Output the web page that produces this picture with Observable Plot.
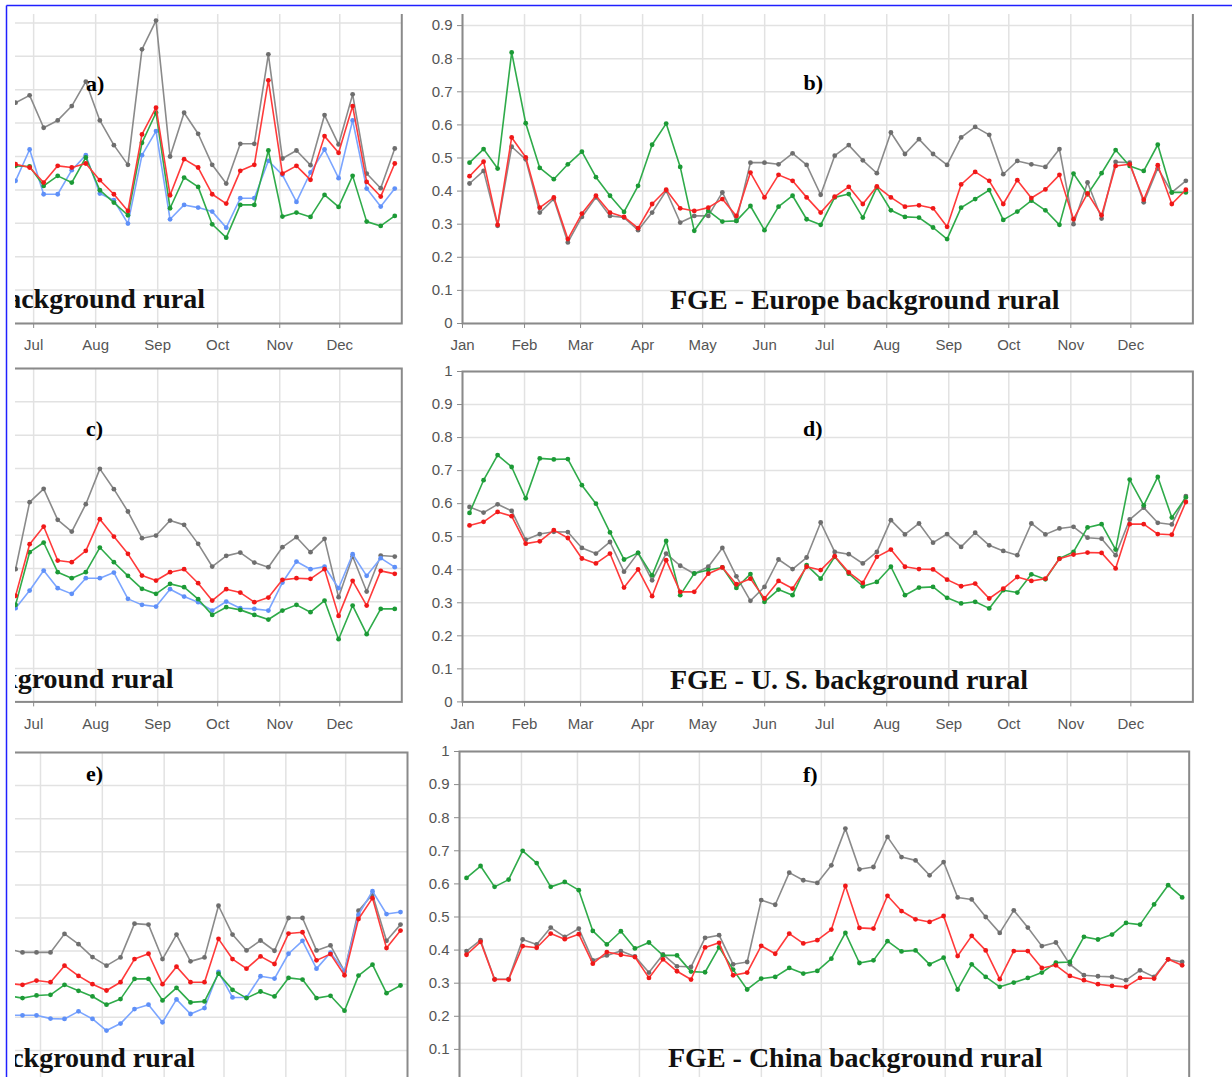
<!DOCTYPE html>
<html>
<head>
<meta charset="utf-8">
<script src="https://cdn.jsdelivr.net/npm/d3@7"></script>
<script src="https://cdn.jsdelivr.net/npm/@observablehq/plot@0.6"></script>
<style>
  html, body { margin: 0; padding: 0; background: #fff; overflow: hidden; }
  #fig { position: relative; width: 1232px; height: 1077px; overflow: hidden; background: #fff; }
  .clip { position: absolute; overflow: hidden; }
  #overlay { position: absolute; left: 0; top: 0; pointer-events: none; }
</style>
</head>
<body>
<div id="fig"></div>
<script>
// ---------------- data ----------------
const yTicks = [0, 0.1, 0.2, 0.3, 0.4, 0.5, 0.6, 0.7, 0.8, 0.9, 1];
const monthLabels = ["Jan", "Feb", "Mar", "Apr", "May", "Jun", "Jul", "Aug", "Sep", "Oct", "Nov", "Dec"];
const weeksAll = d3.range(1, 53);      // weeks 1..52
const weeksJulDec = d3.range(25, 53);  // visible part of the left panels
const weeksJunDec = d3.range(24, 53);

// panel a (left, cropped)
const aGray  = [0.661,0.683,0.586,0.608,0.651,0.724,0.608,0.534,0.475,0.821,0.907,0.500,0.631,0.568,0.475,0.419,0.538,0.538,0.806,0.494,0.518,0.474,0.624,0.536,0.686,0.449,0.405,0.524];
const aRed   = [0.477,0.467,0.422,0.472,0.467,0.479,0.429,0.387,0.337,0.566,0.646,0.384,0.492,0.467,0.387,0.359,0.457,0.475,0.728,0.449,0.472,0.430,0.561,0.511,0.651,0.424,0.380,0.479];
const aGreen = [0.472,0.470,0.412,0.442,0.422,0.497,0.399,0.362,0.324,0.541,0.631,0.345,0.437,0.409,0.297,0.257,0.355,0.355,0.518,0.320,0.332,0.319,0.385,0.349,0.442,0.305,0.292,0.322];
const aBlue  = [0.427,0.521,0.387,0.387,0.459,0.504,0.389,0.369,0.299,0.504,0.576,0.312,0.355,0.347,0.335,0.287,0.375,0.375,0.487,0.445,0.364,0.452,0.521,0.435,0.608,0.404,0.350,0.404];

// panel b: FGE - Europe background rural
const bGray  = [0.423,0.461,0.295,0.534,0.496,0.335,0.376,0.245,0.322,0.381,0.325,0.320,0.282,0.335,0.401,0.305,0.325,0.325,0.396,0.310,0.486,0.486,0.481,0.514,0.479,0.389,
                0.507,0.539,0.493,0.454,0.577,0.512,0.557,0.512,0.479,0.562,0.594,0.570,0.451,0.491,0.481,0.473,0.527,0.300,0.426,0.317,0.488,0.486,0.366,0.469,0.396,0.431];
const bRed   = [0.445,0.489,0.298,0.562,0.502,0.350,0.381,0.255,0.332,0.386,0.335,0.322,0.288,0.361,0.404,0.348,0.340,0.350,0.376,0.325,0.456,0.381,0.449,0.431,0.381,0.335,
                0.383,0.413,0.361,0.414,0.381,0.353,0.357,0.348,0.292,0.420,0.458,0.431,0.361,0.433,0.379,0.405,0.449,0.315,0.393,0.327,0.476,0.481,0.374,0.478,0.361,0.404];
const bGreen = [0.486,0.527,0.468,0.819,0.605,0.470,0.436,0.481,0.519,0.442,0.386,0.337,0.416,0.540,0.604,0.473,0.280,0.340,0.308,0.310,0.355,0.282,0.353,0.386,0.315,0.298,
                0.381,0.391,0.320,0.411,0.342,0.322,0.320,0.290,0.255,0.350,0.376,0.403,0.313,0.338,0.371,0.342,0.298,0.453,0.390,0.454,0.524,0.476,0.461,0.540,0.396,0.396];

// panel c (left, cropped)
const cGray  = [0.398,0.599,0.639,0.546,0.511,0.593,0.699,0.638,0.571,0.491,0.499,0.544,0.531,0.474,0.406,0.438,0.448,0.418,0.404,0.464,0.494,0.449,0.489,0.314,0.436,0.331,0.439,0.436];
const cRed   = [0.318,0.473,0.526,0.424,0.419,0.453,0.548,0.496,0.444,0.379,0.364,0.389,0.398,0.356,0.304,0.338,0.328,0.299,0.313,0.366,0.371,0.369,0.398,0.258,0.363,0.289,0.393,0.384];
const cGreen = [0.291,0.449,0.478,0.389,0.371,0.389,0.463,0.419,0.378,0.339,0.324,0.354,0.344,0.308,0.261,0.284,0.276,0.261,0.247,0.274,0.291,0.269,0.304,0.188,0.289,0.203,0.279,0.279];
const cBlue  = [0.281,0.334,0.394,0.341,0.324,0.371,0.371,0.388,0.309,0.291,0.286,0.338,0.316,0.299,0.274,0.301,0.281,0.279,0.274,0.358,0.421,0.398,0.406,0.341,0.443,0.378,0.431,0.404];

// panel d: FGE - U. S. background rural
const dGray  = [0.590,0.573,0.598,0.578,0.491,0.508,0.515,0.514,0.466,0.449,0.484,0.394,0.451,0.368,0.449,0.412,0.388,0.409,0.466,0.380,0.306,0.348,0.431,0.402,0.437,0.543,
                0.454,0.447,0.419,0.454,0.550,0.507,0.540,0.482,0.508,0.469,0.512,0.474,0.457,0.444,0.540,0.507,0.525,0.530,0.497,0.494,0.444,0.552,0.588,0.542,0.537,0.623];
const dRed   = [0.534,0.545,0.575,0.562,0.479,0.486,0.520,0.496,0.434,0.419,0.449,0.346,0.401,0.320,0.429,0.333,0.333,0.388,0.407,0.356,0.373,0.313,0.366,0.343,0.409,0.399,
                0.441,0.392,0.360,0.439,0.461,0.409,0.402,0.401,0.370,0.350,0.358,0.313,0.343,0.378,0.366,0.373,0.433,0.446,0.452,0.451,0.404,0.538,0.538,0.508,0.506,0.605];
const dGreen = [0.572,0.671,0.747,0.711,0.616,0.737,0.734,0.735,0.656,0.600,0.513,0.431,0.451,0.383,0.487,0.323,0.389,0.399,0.407,0.345,0.387,0.303,0.340,0.323,0.414,0.373,
                0.439,0.388,0.350,0.363,0.409,0.323,0.346,0.348,0.315,0.298,0.303,0.283,0.338,0.331,0.386,0.371,0.434,0.454,0.528,0.538,0.461,0.673,0.595,0.681,0.558,0.619];

// panel e (left, cropped)
const eGray  = [0.407,0.396,0.396,0.396,0.452,0.421,0.382,0.356,0.381,0.483,0.480,0.376,0.450,0.369,0.381,0.537,0.450,0.402,0.432,0.401,0.500,0.500,0.402,0.417,0.339,0.522,0.571,0.431,0.480];
const eRed   = [0.302,0.298,0.311,0.306,0.356,0.325,0.300,0.281,0.306,0.376,0.392,0.300,0.353,0.306,0.306,0.437,0.376,0.347,0.384,0.361,0.453,0.457,0.372,0.391,0.327,0.497,0.560,0.409,0.462];
const eGreen = [0.265,0.258,0.266,0.268,0.298,0.280,0.263,0.238,0.255,0.316,0.316,0.251,0.289,0.245,0.248,0.332,0.283,0.258,0.278,0.263,0.319,0.314,0.258,0.265,0.220,0.326,0.359,0.273,0.296];
const eBlue  = [0.206,0.206,0.206,0.196,0.195,0.218,0.195,0.160,0.181,0.225,0.238,0.185,0.254,0.210,0.228,0.337,0.260,0.260,0.324,0.317,0.392,0.431,0.347,0.395,0.339,0.510,0.581,0.512,0.518];

// panel f: FGE - China background rural
const fGray  = [0.397,0.430,0.312,0.312,0.432,0.417,0.468,0.440,0.465,0.369,0.384,0.397,0.381,0.332,0.387,0.351,0.349,0.437,0.445,0.357,0.364,0.551,0.537,0.634,0.611,0.603,
                0.656,0.767,0.644,0.651,0.742,0.681,0.671,0.626,0.666,0.559,0.553,0.500,0.452,0.520,0.468,0.412,0.423,0.357,0.324,0.321,0.319,0.309,0.339,0.319,0.372,0.364];
const fRed   = [0.386,0.425,0.311,0.311,0.412,0.407,0.450,0.433,0.448,0.359,0.394,0.386,0.379,0.316,0.372,0.336,0.311,0.408,0.422,0.324,0.332,0.413,0.389,0.450,0.420,0.430,
                0.462,0.594,0.467,0.465,0.564,0.518,0.493,0.485,0.503,0.382,0.443,0.399,0.312,0.397,0.397,0.346,0.354,0.322,0.309,0.297,0.292,0.289,0.316,0.314,0.372,0.354];
const fGreen = [0.618,0.654,0.591,0.613,0.700,0.663,0.591,0.606,0.581,0.458,0.417,0.457,0.405,0.423,0.384,0.384,0.335,0.333,0.408,0.341,0.281,0.314,0.319,0.346,0.329,0.337,
                0.374,0.452,0.361,0.369,0.427,0.396,0.399,0.357,0.377,0.281,0.357,0.319,0.289,0.302,0.316,0.332,0.362,0.364,0.440,0.432,0.447,0.482,0.477,0.538,0.596,0.559];

const titles = ["Europe background rural", "FGE - Europe background rural",
                "U. S. background rural", "FGE - U. S. background rural",
                "China background rural", "FGE - China background rural"];
const letters = ["a)", "b)", "c)", "d)", "e)", "f)"];

// ---------------- styling ----------------
const lineColor = {gray: "#8a8a8a", red: "#ff3a3a", green: "#2fab4a", blue: "#7ba5ff"};
const dotColor  = {gray: "#6e6e6e", red: "#f01818", green: "#1c9a36", blue: "#5f90f8"};

const ML = 40, MR = 12, MT = 12, MB = 40;
const DAY = 864e5, Y0 = Date.UTC(2015, 0, 1), Y1 = Date.UTC(2016, 0, 1);
const weekDate = w => new Date(Y0 + (w - 0.5) * (365 / 52) * DAY);
const monthStarts = monthLabels.map((m, i) => new Date(Date.UTC(2015, i, 1)));
const fmtY = d3.format("~g");

// yAxis: whether the y labels fall inside the picture; xLabelsFrom: first month whose label is in the picture
const panels = [
  {axisX: -329.3, top: -11.3, w: 730.3, h: 334.0, clip: [15, 14, 395, 346], yAxis: false, xLabelsFrom: 6,
   series: [["gray", weeksJulDec, aGray], ["blue", weeksJulDec, aBlue], ["green", weeksJulDec, aGreen], ["red", weeksJulDec, aRed]]},
  {axisX: 462.3, top: -8.3, w: 730.4, h: 331.0, clip: [412, 14, 820, 346], yAxis: true, xLabelsFrom: 0,
   series: [["gray", weeksAll, bGray], ["green", weeksAll, bGreen], ["red", weeksAll, bRed]]},
  {axisX: -329.3, top: 368.3, w: 730.3, h: 333.4, clip: [15, 360, 395, 380], yAxis: false, xLabelsFrom: 6,
   series: [["gray", weeksJulDec, cGray], ["blue", weeksJulDec, cBlue], ["green", weeksJulDec, cGreen], ["red", weeksJulDec, cRed]]},
  {axisX: 462.3, top: 371.3, w: 730.4, h: 330.4, clip: [412, 360, 820, 380], yAxis: true, xLabelsFrom: 0,
   series: [["gray", weeksAll, dGray], ["green", weeksAll, dGreen], ["red", weeksAll, dRed]]},
  {axisX: -321.3, top: 752.3, w: 728.0, h: 331.0, clip: [15, 740, 397, 337], yAxis: false, xLabelsFrom: null,
   series: [["gray", weeksJunDec, eGray], ["blue", weeksJunDec, eBlue], ["green", weeksJunDec, eGreen], ["red", weeksJunDec, eRed]]},
  {axisX: 459.3, top: 751.3, w: 729.7, h: 331.0, clip: [412, 740, 820, 337], yAxis: true, xLabelsFrom: null,
   series: [["gray", weeksAll, fGray], ["green", weeksAll, fGreen], ["red", weeksAll, fRed]]}
];

const fig = document.getElementById("fig");

for (const p of panels) {
  const marks = [
    Plot.gridY(yTicks, {stroke: "#e2e2e2", strokeOpacity: 1, strokeWidth: 1.5}),
    Plot.gridX(monthStarts, {stroke: "#e2e2e2", strokeOpacity: 1, strokeWidth: 1.5})
  ];
  if (p.yAxis) {
    // only the labels that fall inside the picture (the rest is cropped away in the reference)
    const visible = yTicks.filter(v => {
      const y = p.top + p.h * (1 - v);
      return y > p.clip[1] + 8 && y < 1072;
    });
    marks.push(Plot.axisY(visible, {
      tickFormat: fmtY, tickSize: 5, tickPadding: 5, label: null,
      stroke: "#8a8a8a", fill: "#555", fontSize: 15}));
  }
  if (p.xLabelsFrom !== null) {
    marks.push(Plot.axisX(monthStarts.slice(p.xLabelsFrom), {
      tickFormat: d => monthLabels[d.getUTCMonth()], tickSize: 5, tickPadding: 11,
      label: null, stroke: "#8a8a8a", fill: "#555", fontSize: 15}));
  }
  marks.push(Plot.frame({stroke: "#8a8a8a", strokeWidth: 2}));
  for (const [color, weeks, values] of p.series) {
    const data = values.map((v, k) => ({date: weekDate(weeks[k]), value: v}));
    marks.push(Plot.line(data, {x: "date", y: "value", stroke: lineColor[color], strokeWidth: 1.6}));
    marks.push(Plot.dot(data, {x: "date", y: "value", fill: dotColor[color], r: 2.4}));
  }
  const svg = Plot.plot({
    width: ML + p.w + MR,
    height: MT + p.h + MB,
    marginLeft: ML, marginRight: MR, marginTop: MT, marginBottom: MB,
    x: {type: "utc", domain: [new Date(Y0), new Date(Y1)], axis: null},
    y: {type: "linear", domain: [0, 1], axis: null},
    style: {fontFamily: "'Liberation Sans', Arial, sans-serif", fontSize: "15px", color: "#555",
            background: "transparent", maxWidth: "none", overflow: "visible"},
    marks
  });
  const clip = document.createElement("div");
  clip.className = "clip";
  clip.style.left = p.clip[0] + "px";
  clip.style.top = p.clip[1] + "px";
  clip.style.width = p.clip[2] + "px";
  clip.style.height = p.clip[3] + "px";
  svg.style.position = "absolute";
  svg.style.left = (p.axisX - ML - p.clip[0]) + "px";
  svg.style.top = (p.top - MT - p.clip[1]) + "px";
  clip.appendChild(svg);
  fig.appendChild(clip);
}

// ---------------- overlay: titles, letters, blue border ----------------
const ov = d3.select(fig).append("svg").attr("id", "overlay").attr("width", 1232).attr("height", 1077);
ov.append("clipPath").attr("id", "leftclip").append("rect").attr("x", 15).attr("y", 0).attr("width", 400).attr("height", 1077);

const titlePos = [
  {x: 205, y: 308, anchor: "end", clip: true},
  {x: 670, y: 308.5, anchor: "start"},
  {x: 173.5, y: 687.5, anchor: "end", clip: true},
  {x: 670, y: 688.5, anchor: "start"},
  {x: 195, y: 1067, anchor: "end", clip: true},
  {x: 668, y: 1067, anchor: "start"}
];
titles.forEach((t, i) => {
  const p = titlePos[i];
  const el = ov.append("text").attr("x", p.x).attr("y", p.y).attr("text-anchor", p.anchor)
    .attr("font-family", "'Liberation Serif', 'Times New Roman', serif").attr("font-weight", "bold")
    .attr("font-size", 28).attr("fill", "#111").text(t);
  if (p.clip) el.attr("clip-path", "url(#leftclip)");
});

const letterPos = [[86, 90.5], [803.5, 90], [86, 436], [803, 435.5], [86, 781], [803, 781.5]];
letters.forEach((t, i) => {
  ov.append("text").attr("x", letterPos[i][0]).attr("y", letterPos[i][1])
    .attr("font-family", "'Liberation Serif', 'Times New Roman', serif").attr("font-weight", "bold")
    .attr("font-size", 22).attr("fill", "#000").text(t);
});

ov.append("line").attr("x1", 6.5).attr("y1", 5.5).attr("x2", 1232).attr("y2", 5.5)
  .attr("stroke", "#2020ff").attr("stroke-width", 1.5);
ov.append("line").attr("x1", 6.5).attr("y1", 5.5).attr("x2", 6.5).attr("y2", 1077)
  .attr("stroke", "#2020ff").attr("stroke-width", 1.5);
</script>
</body>
</html>
